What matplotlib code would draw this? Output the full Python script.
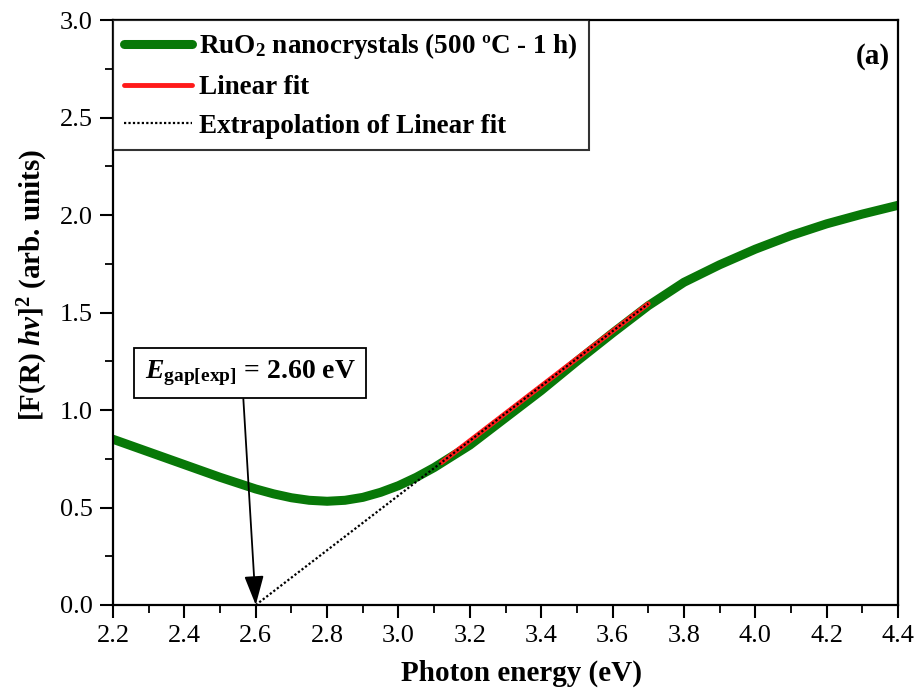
import matplotlib
matplotlib.use("Agg")
import matplotlib.pyplot as plt
from matplotlib.ticker import MultipleLocator

# Data
energy = [2.2, 2.3, 2.4, 2.5, 2.6, 2.65, 2.7, 2.75, 2.8, 2.85, 2.9, 2.95, 3.0, 3.05,
          3.1, 3.2, 3.3, 3.4, 3.5, 3.6, 3.7, 3.8, 3.9, 4.0, 4.1, 4.2, 4.3, 4.4]
fr_hv2 = [0.85, 0.785, 0.72, 0.655, 0.595, 0.57, 0.55, 0.537, 0.532, 0.537, 0.552, 0.578,
          0.612, 0.655, 0.705, 0.82, 0.96, 1.10, 1.25, 1.395, 1.535, 1.655, 1.745,
          1.825, 1.895, 1.955, 2.005, 2.05]
fit_x = [3.12, 3.70]
fit_y = [0.73, 1.545]
ext_x = [2.60, 3.70]
ext_y = [0.0, 1.545]
egap = 2.60

plt.rcParams['font.family'] = ['Liberation Serif', 'DejaVu Serif']
plt.rcParams['mathtext.fontset'] = 'custom'
plt.rcParams['mathtext.rm'] = 'Liberation Serif:bold'
plt.rcParams['mathtext.it'] = 'Liberation Serif:italic:bold'
plt.rcParams['mathtext.bf'] = 'Liberation Serif:bold'

fig = plt.figure(figsize=(9.22, 6.93), dpi=100)
ax = fig.add_axes([0.1226, 0.127, 0.8514, 0.844])

ax.plot(energy, fr_hv2, color='#087808', lw=6.5, solid_capstyle='round',
        solid_joinstyle='round', label='RuO$_2$ nanocrystals (500 ºC - 1 h)', zorder=2)
ax.plot(fit_x, fit_y, color='#ff1a1a', lw=3.5, solid_capstyle='round',
        label='Linear fit', zorder=3)
ax.plot(ext_x, ext_y, color='black', lw=1.6, ls=(0, (1, 1)),
        label='Extrapolation of Linear fit', zorder=4)

ax.set_xlim(2.2, 4.4)
ax.set_ylim(0, 3.0)
ax.xaxis.set_major_locator(MultipleLocator(0.2))
ax.xaxis.set_minor_locator(MultipleLocator(0.1))
ax.yaxis.set_major_locator(MultipleLocator(0.5))
ax.yaxis.set_minor_locator(MultipleLocator(0.25))
ax.tick_params(which='major', direction='out', length=9.5, width=1.5, labelsize=19, pad=5)
ax.tick_params(which='minor', direction='out', length=5.5, width=1.3)
for sp in ax.spines.values():
    sp.set_linewidth(1.6)

ax.set_xlabel('Photon energy (eV)', fontsize=21, fontweight='bold')
ax.set_ylabel('[F(R) $hv$]$^2$ (arb. units)', fontsize=21, fontweight='bold')
ax.xaxis.set_label_coords(0.52, -0.093)
ax.yaxis.set_label_coords(-0.102, 0.547)
ax.yaxis.label.set_va('center')

leg = ax.legend(loc='upper left', bbox_to_anchor=(0.0, 1.0), prop={'size': 19.5, 'weight': 'bold'},
                frameon=True, fancybox=False, edgecolor='black', handlelength=2.5,
                borderaxespad=0.0, labelspacing=0.5, handletextpad=0.25, borderpad=0.42)
leg.get_frame().set_linewidth(1.5)

ax.text(0.989, 0.96, '(a)', transform=ax.transAxes, ha='right', va='top',
        fontsize=21, fontweight='bold')

ax.annotate('$\\mathit{E}_{\\mathrm{gap[exp]}}$ = 2.60 eV', xy=(egap, 0.0), xytext=(2.584, 1.19),
            ha='center', va='center', fontsize=20, fontweight='bold',
            bbox=dict(boxstyle='square,pad=0.38', fc='white', ec='black', lw=1.3),
            arrowprops=dict(arrowstyle='-|>,head_length=0.9,head_width=0.3', color='black', lw=1.3,
                            shrinkA=0, shrinkB=0, relpos=(0.465, 0.0)))

fig.savefig('out.png', dpi=100)
